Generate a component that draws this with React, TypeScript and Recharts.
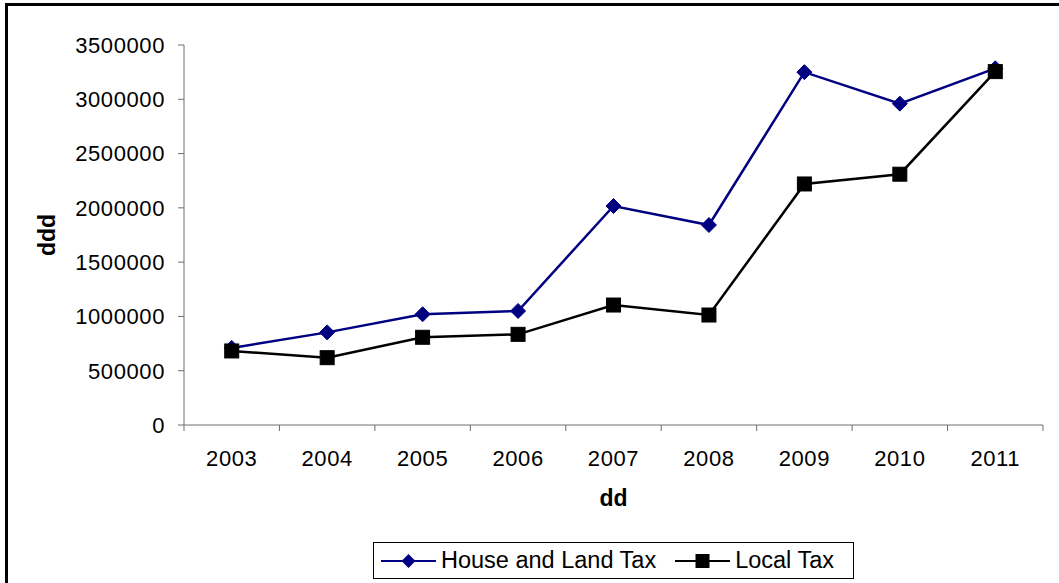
import React from 'react';
import { LineChart, Line, XAxis, YAxis } from 'recharts';

// values
const years = ['2003', '2004', '2005', '2006', '2007', '2008', '2009', '2010', '2011'];
const houseAndLandTax = [710000, 853000, 1020000, 1050000, 2017000, 1842000, 3250000, 2960000, 3285000];
const localTax = [682000, 620000, 808000, 835000, 1105000, 1013000, 2220000, 2310000, 3255000];
const yTicks = [0, 500000, 1000000, 1500000, 2000000, 2500000, 3000000, 3500000];
const xTicks = [0, 1, 2, 3, 4, 5, 6, 7, 8, 9];

const data = years.map((year, i) => ({
  year,
  pos: i + 0.5,
  house: houseAndLandTax[i],
  local: localTax[i],
}));

const FONT = '"Liberation Sans", Arial, sans-serif';
const AXIS_COLOR = '#6e6e6e';
const PLOT_LEFT = 184;
const PLOT_RIGHT = 1043;
const BAND = (PLOT_RIGHT - PLOT_LEFT) / years.length;

const Diamond = (props: any) => {
  const { cx, cy } = props;
  if (cx == null || cy == null) return null;
  const r = 7.5;
  return (
    <polygon
      points={`${cx},${cy - r} ${cx + r},${cy} ${cx},${cy + r} ${cx - r},${cy}`}
      fill="#000080"
      stroke="#000080"
      strokeWidth={1}
    />
  );
};

const Square = (props: any) => {
  const { cx, cy } = props;
  if (cx == null || cy == null) return null;
  const h = 7;
  return <rect x={cx - h} y={cy - h} width={h * 2} height={h * 2} fill="#000" stroke="#000" strokeWidth={1} />;
};

const YearTick = (props: any) => {
  const { x, y, payload } = props;
  const idx = payload.value;
  if (idx >= years.length) return null;
  return (
    <text
      x={x + BAND / 2}
      y={y + 33}
      textAnchor="middle"
      fontFamily={FONT}
      fontSize={22}
      letterSpacing={0.6}
      fill="#000"
    >
      {years[idx]}
    </text>
  );
};

const ValueTick = (props: any) => {
  const { x, y, payload } = props;
  return (
    <text
      x={x}
      y={y}
      dy="0.36em"
      textAnchor="end"
      fontFamily={FONT}
      fontSize={22}
      letterSpacing={0.6}
      fill="#000"
    >
      {payload.value}
    </text>
  );
};

const LegendItem = ({ label, marker, gap }: { label: string; marker: 'diamond' | 'square'; gap: number }) => (
  <span style={{ display: 'inline-flex', alignItems: 'center', marginRight: gap }}>
    <svg width={55} height={20} style={{ marginRight: 5 }}>
      {marker === 'diamond' ? (
        <>
          <line x1={0} y1={10} x2={55} y2={10} stroke="#000080" strokeWidth={2} />
          <polygon points="27.5,3 34.5,10 27.5,17 20.5,10" fill="#000080" />
        </>
      ) : (
        <>
          <line x1={0} y1={10} x2={55} y2={10} stroke="#000" strokeWidth={2} />
          <rect x={20.5} y={3} width={14} height={14} fill="#000" />
        </>
      )}
    </svg>
    <span>{label}</span>
  </span>
);

export default function App() {
  return (
    <div
      style={{
        position: 'absolute',
        left: 0,
        top: 0,
        width: 1059,
        height: 583,
        overflow: 'hidden',
        background: '#fff',
        fontFamily: FONT,
      }}
    >
      {/* outer chart frame: only top and left edges are inside the picture */}
      <div
        style={{
          position: 'absolute',
          left: 5,
          top: 3,
          width: 1100,
          height: 640,
          border: '3px solid #000',
          boxSizing: 'border-box',
        }}
      />
      <div style={{ position: 'absolute', left: 0, top: 0 }}>
        <LineChart width={1059} height={583} data={data} margin={{ top: 45, right: 16, bottom: 0, left: 0 }}>
          <XAxis
            dataKey="pos"
            type="number"
            domain={[0, 9]}
            ticks={xTicks}
            interval={0}
            height={158}
            stroke={AXIS_COLOR}
            tickSize={6}
            tick={<YearTick />}
            label={() => (
              <text
                x={(PLOT_LEFT + PLOT_RIGHT) / 2}
                y={506}
                textAnchor="middle"
                fontFamily={FONT}
                fontSize={23}
                fontWeight="bold"
                fill="#000"
              >
                dd
              </text>
            )}
          />
          <YAxis
            type="number"
            domain={[0, 3500000]}
            ticks={yTicks}
            interval={0}
            width={184}
            stroke={AXIS_COLOR}
            tickSize={6}
            tickMargin={13}
            tick={<ValueTick />}
            label={() => (
              <text
                x={0}
                y={0}
                transform="translate(55, 235) rotate(-90)"
                textAnchor="middle"
                fontFamily={FONT}
                fontSize={23}
                fontWeight="bold"
                fill="#000"
              >
                ddd
              </text>
            )}
          />
          <Line
            dataKey="house"
            name="House and Land Tax"
            stroke="#000080"
            strokeWidth={2.5}
            dot={<Diamond />}
            isAnimationActive={false}
          />
          <Line
            dataKey="local"
            name="Local Tax"
            stroke="#000"
            strokeWidth={2.5}
            dot={<Square />}
            isAnimationActive={false}
          />
        </LineChart>
      </div>
      <div
        style={{
          position: 'absolute',
          left: 373,
          top: 542,
          width: 481,
          height: 37,
          border: '1px solid #000',
          boxSizing: 'border-box',
          display: 'flex',
          alignItems: 'center',
          paddingLeft: 7,
          fontSize: 23.5,
          color: '#000',
          whiteSpace: 'nowrap',
        }}
      >
        <LegendItem label="House and Land Tax" marker="diamond" gap={19} />
        <LegendItem label="Local Tax" marker="square" gap={0} />
      </div>
    </div>
  );
}
